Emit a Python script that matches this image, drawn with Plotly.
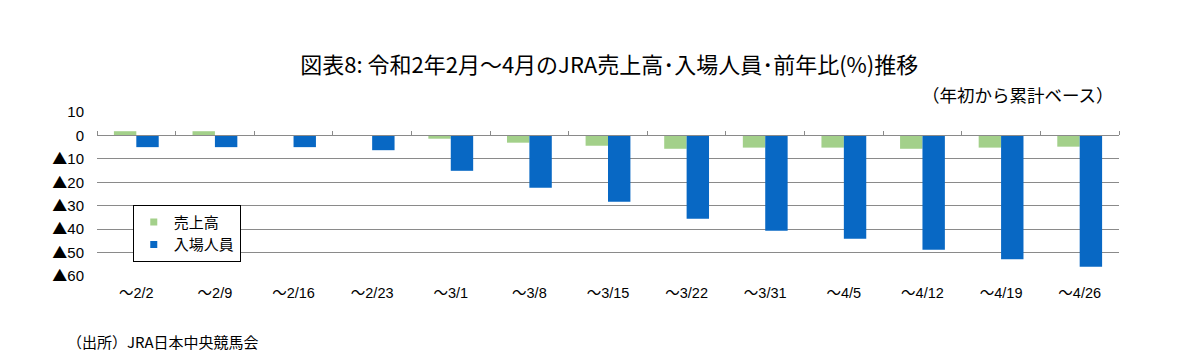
import plotly.graph_objects as go

categories = ["～2/2", "～2/9", "～2/16", "～2/23", "～3/1", "～3/8", "～3/15",
              "～3/22", "～3/31", "～4/5", "～4/12", "～4/19", "～4/26"]
sales = [1.8, 1.8, 0.0, 0.0, -1.4, -3.1, -4.4, -5.7, -5.2, -5.2, -5.7, -5.2, -4.8]
attendance = [-5.0, -5.0, -5.0, -6.3, -15.1, -22.3, -28.3, -35.6, -40.7, -44.1, -48.8, -52.8, -56.0]
series_names = ["売上高", "入場人員"]
y_tickvals = [10, 0, -10, -20, -30, -40, -50, -60]
y_ticktext = ["10", "0", "▲10", "▲20", "▲30", "▲40", "▲50", "▲60"]

title_text = "図表8: 令和2年2月～4月のJRA売上高･入場人員･前年比(%)推移"
subtitle_text = "（年初から累計ベース）"
source_text = "（出所）JRA日本中央競馬会"

GREEN = "#A3D08A"
BLUE = "#0868C4"
GRID = "#8A8A8A"
FONT = "Liberation Sans, Arial, Noto Sans CJK JP"
CJK = "Noto Sans CJK JP, Liberation Sans"

n = len(categories)
x_idx = list(range(n))
boundaries = [i - 0.5 for i in range(n + 1)]

# render the ▲ with a CJK font so it has the full-width look of the original
y_ticktext_html = [t.replace("▲", "<span style='font-family:Noto Sans CJK JP'>▲</span>")
                   for t in y_ticktext]

fig = go.Figure()
fig.add_trace(go.Bar(x=x_idx, y=sales, name=series_names[0], marker_color=GREEN,
                     marker_line_width=0, showlegend=False))
fig.add_trace(go.Bar(x=x_idx, y=attendance, name=series_names[1], marker_color=BLUE,
                     marker_line_width=0, showlegend=False))
# legend proxies with small square swatches
for name, col in zip(series_names, [GREEN, BLUE]):
    fig.add_trace(go.Scatter(x=[None], y=[None], mode="markers", name=name,
                             marker=dict(symbol="square", size=7, color=col)))
# invisible trace to carry the zero-level category axis with boundary ticks
fig.add_trace(go.Scatter(x=[], y=[], xaxis="x2", showlegend=False, hoverinfo="skip"))

ymin, ymax = -60, 10
fig.update_layout(
    width=1190, height=351,
    margin=dict(l=97, r=71, t=112, b=75),
    paper_bgcolor="white", plot_bgcolor="white",
    barmode="group", bargap=0.43, bargroupgap=0,
    font=dict(family=FONT, size=14, color="black"),
    title=dict(text=title_text, x=0.512, xref="container", xanchor="center",
               y=1 - 65 / 351, yref="container", yanchor="middle",
               font=dict(family=CJK, size=22, color="black")),
    xaxis=dict(range=[-0.5, n - 0.5], tickvals=x_idx, ticktext=categories,
               showgrid=False, zeroline=False, showline=False, ticks="",
               ticklabelstandoff=6,
               tickfont=dict(family=FONT, size=14.5)),
    xaxis2=dict(overlaying="x", anchor="free", position=(0 - ymin) / (ymax - ymin),
                side="top", range=[-0.5, n - 0.5], tickvals=boundaries,
                ticks="outside", ticklen=4, tickcolor=GRID, tickwidth=1,
                showticklabels=False, showline=True, linecolor=GRID, linewidth=1,
                showgrid=False, zeroline=False),
    yaxis=dict(range=[ymin, ymax], tickvals=y_tickvals, ticktext=y_ticktext_html,
               showgrid=True, gridcolor=GRID, gridwidth=1,
               zeroline=True, zerolinecolor=GRID, zerolinewidth=1,
               showline=False, ticks="", ticklabelstandoff=12,
               tickfont=dict(family=FONT, size=15)),
    legend=dict(x=0.035, y=0.435, xanchor="left", yanchor="top",
                bgcolor="white", bordercolor="black", borderwidth=1,
                font=dict(family=CJK, size=15), itemwidth=30,
                tracegroupgap=0),
    annotations=[
        dict(text=subtitle_text, xref="paper", yref="paper", x=(1116 - 97) / 1022,
             y=(276 - 95) / 164, xanchor="right", yanchor="middle", showarrow=False,
             font=dict(family=CJK, size=17.5, color="black")),
        dict(text=source_text, xref="paper", yref="paper", x=(65 - 97) / 1022,
             y=(276 - 341) / 164, xanchor="left", yanchor="middle", showarrow=False,
             font=dict(family=CJK, size=15, color="black")),
    ],
)

fig.write_html("out.html")
